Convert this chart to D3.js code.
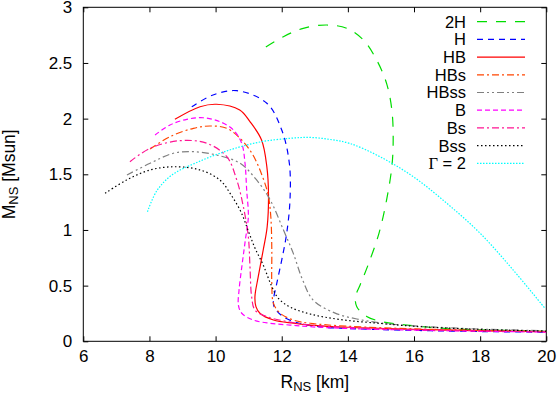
<!DOCTYPE html>
<html>
<head>
<meta charset="utf-8">
<script src="https://cdn.jsdelivr.net/npm/d3@7"></script>
<style>
body { margin: 0; background: #fff; }
text { font-family: "Liberation Sans", Arial, sans-serif; fill: #000; }
</style>
</head>
<body>
<svg id="chart" width="559" height="395"></svg>
<script>
// Mass-radius curves, [R in km, M in Msun]
var curve2H = [[11.52,2.643],[12.05,2.736],[12.65,2.811],[13.36,2.841],[13.97,2.811],[14.47,2.706],[14.87,2.527],[15.17,2.317],[15.33,2.078],[15.37,1.808],[15.33,1.568],[15.17,1.269],[14.94,0.970],[14.61,0.685],[14.37,0.506],[14.23,0.398],[14.27,0.311],[14.57,0.223],[15.09,0.173],[15.78,0.146],[16.48,0.126],[17.29,0.110],[18.30,0.101],[20.0,0.090]];
var curveH = [[9.28,2.107],[9.9,2.21],[10.64,2.251],[11.55,2.138],[12.0,1.898],[12.23,1.599],[12.25,1.27],[12.15,0.970],[12.0,0.73],[11.85,0.52],[11.75,0.37],[11.77,0.31],[12.05,0.22],[12.55,0.16],[13.16,0.13],[14.0,0.115],[16.0,0.098],[18.0,0.088],[20.0,0.082]];
var curveHB = [[8.77,1.994],[9.53,2.107],[10.03,2.129],[10.73,2.078],[11.04,1.973],[11.39,1.808],[11.55,1.568],[11.60,1.314],[11.56,1.029],[11.44,0.820],[11.29,0.580],[11.19,0.401],[11.22,0.311],[11.34,0.252],[11.75,0.191],[12.35,0.162],[12.86,0.146],[14.0,0.126],[16.0,0.108],[18.0,0.095],[20.0,0.086]];
var curveHBs = [[8.02,1.727],[8.62,1.838],[9.33,1.913],[9.83,1.934],[10.34,1.913],[10.79,1.808],[11.13,1.673],[11.40,1.494],[11.59,1.314],[11.67,1.119],[11.70,0.820],[11.70,0.521],[11.75,0.341],[11.95,0.252],[12.35,0.191],[12.86,0.162],[14.0,0.135],[16.0,0.112],[18.0,0.098],[20.0,0.088]];
var curveHBss = [[7.32,1.494],[8.02,1.599],[8.72,1.689],[9.33,1.703],[10.03,1.673],[10.74,1.599],[11.24,1.449],[11.65,1.270],[12.05,1.001],[12.35,0.790],[12.62,0.560],[12.95,0.370],[13.60,0.255],[14.27,0.200],[15.0,0.165],[16.0,0.138],[18.0,0.110],[20.0,0.095]];
var curveB = [[8.17,1.853],[8.62,1.943],[9.13,1.994],[9.63,2.008],[10.13,1.973],[10.54,1.898],[10.79,1.778],[10.89,1.599],[10.94,1.359],[10.99,1.119],[10.90,0.910],[10.80,0.685],[10.71,0.461],[10.69,0.326],[10.79,0.252],[11.14,0.191],[11.65,0.162],[12.25,0.146],[12.86,0.131],[14.0,0.115],[16.0,0.100],[18.0,0.090],[20.0,0.083]];
var curveBs = [[7.41,1.613],[8.02,1.734],[8.92,1.802],[9.73,1.779],[10.34,1.658],[10.64,1.449],[10.84,1.209],[10.99,0.940],[11.04,0.670],[11.09,0.401],[11.19,0.281],[11.55,0.221],[12.25,0.173],[12.86,0.146],[14.0,0.125],[16.0,0.105],[18.0,0.093],[20.0,0.085]];
var curveBss = [[6.66,1.329],[7.31,1.449],[8.02,1.539],[8.77,1.568],[9.53,1.539],[10.13,1.449],[10.47,1.314],[10.77,1.161],[10.98,0.999],[11.19,0.838],[11.44,0.685],[11.68,0.506],[11.89,0.389],[12.25,0.308],[12.86,0.245],[13.76,0.196],[15.0,0.160],[16.0,0.135],[18.0,0.107],[20.0,0.092]];
var curveGamma = [[7.94,1.164],[8.22,1.350],[8.68,1.494],[9.47,1.611],[10.38,1.714],[11.34,1.790],[12.25,1.823],[12.86,1.831],[13.46,1.813],[14.06,1.777],[14.97,1.658],[15.98,1.478],[16.99,1.240],[18.00,0.970],[19.00,0.640],[19.96,0.296]];

var seriesNames = ["2H", "H", "HB", "HBs", "HBss", "B", "Bs", "Bss", "Γ = 2"];
var seriesData = [curve2H, curveH, curveHB, curveHBs, curveHBss, curveB, curveBs, curveBss, curveGamma];
var seriesColors = ["#00dd00", "#0000ff", "#ff0000", "#ff4500", "#808080", "#ff00ff", "#ff1493", "#000000", "#00ffff"];
var seriesDash = ["10,9", "6,5", null, "7,3,2,3", "7,3,2,3,2,3", "5,3", "7,3,2,3", "1.5,2.5", "1.5,1.5"];

var xTicks = [6, 8, 10, 12, 14, 16, 18, 20];
var yTicks = [0, 0.5, 1, 1.5, 2, 2.5, 3];

var plotLeft = 83.3, plotRight = 546.3, plotTop = 7.3, plotBottom = 341.3;

var svg = d3.select("#chart");

var x = d3.scaleLinear().domain([6, 20]).range([plotLeft, plotRight]);
var y = d3.scaleLinear().domain([0, 3]).range([plotBottom, plotTop]);

svg.append("defs").append("clipPath").attr("id", "clip")
    .append("rect")
    .attr("x", plotLeft).attr("y", plotTop)
    .attr("width", plotRight - plotLeft).attr("height", plotBottom - plotTop);

// axes: ticks on all four sides, pointing inward
var tickLen = 5;
svg.append("g")
    .attr("transform", "translate(0," + plotBottom + ")")
    .call(d3.axisBottom(x).tickValues(xTicks).tickSizeInner(-tickLen).tickSizeOuter(0).tickPadding(9).tickFormat(d => d));
svg.append("g")
    .attr("transform", "translate(0," + plotTop + ")")
    .call(d3.axisTop(x).tickValues(xTicks).tickSizeInner(-tickLen).tickSizeOuter(0).tickFormat(""));
svg.append("g")
    .attr("transform", "translate(" + plotLeft + ",0)")
    .call(d3.axisLeft(y).tickValues(yTicks).tickSizeInner(-tickLen).tickSizeOuter(0).tickPadding(11).tickFormat(d => d));
svg.append("g")
    .attr("transform", "translate(" + plotRight + ",0)")
    .call(d3.axisRight(y).tickValues(yTicks).tickSizeInner(-tickLen).tickSizeOuter(0).tickFormat(""));

svg.selectAll(".domain").remove();
svg.selectAll(".tick line").attr("stroke", "#000");
svg.selectAll(".tick text")
    .style("font-size", "17px")
    .style("font-family", "'Liberation Sans', Arial, sans-serif")
    .attr("fill", "#000");

svg.append("rect")
    .attr("x", plotLeft).attr("y", plotTop)
    .attr("width", plotRight - plotLeft).attr("height", plotBottom - plotTop)
    .attr("fill", "none")
    .attr("stroke", "#000")
    .attr("stroke-width", 1);

// curves
var line = d3.line()
    .x(d => x(d[0]))
    .y(d => y(d[1]))
    .curve(d3.curveCatmullRom.alpha(0.5));

var plot = svg.append("g").attr("clip-path", "url(#clip)");
seriesData.forEach(function(d, i) {
    plot.append("path")
        .datum(d)
        .attr("fill", "none")
        .attr("stroke", seriesColors[i])
        .attr("stroke-width", 1.2)
        .attr("stroke-dasharray", seriesDash[i])
        .attr("d", line);
});

// legend
var legendTop = 21.7, legendStep = 17.7;
seriesNames.forEach(function(name, i) {
    var ly = legendTop + i * legendStep;
    var t = svg.append("text")
        .attr("x", 466)
        .attr("y", ly)
        .attr("dy", "0.36em")
        .attr("text-anchor", "end")
        .style("font-size", "16.5px");
    if (name.charAt(0) === "Γ") {
        t.append("tspan").style("font-family", "'Liberation Serif', serif").text("Γ");
        t.append("tspan").text(name.slice(1));
    } else {
        t.text(name);
    }
    svg.append("line")
        .attr("x1", 477).attr("x2", 525)
        .attr("y1", ly).attr("y2", ly)
        .attr("stroke", seriesColors[i])
        .attr("stroke-width", 1.2)
        .attr("stroke-dasharray", seriesDash[i]);
});

// axis titles
var xt = svg.append("text")
    .attr("x", (plotLeft + plotRight) / 2)
    .attr("y", 388)
    .attr("text-anchor", "middle")
    .style("font-size", "17.5px");
xt.append("tspan").text("R");
xt.append("tspan").attr("baseline-shift", "-3").style("font-size", "13px").text("NS");
xt.append("tspan").text(" [km]");

var yt = svg.append("text")
    .attr("transform", "translate(15," + (plotTop + plotBottom) / 2 + ") rotate(-90)")
    .attr("text-anchor", "middle")
    .style("font-size", "17.5px");
yt.append("tspan").text("M");
yt.append("tspan").attr("baseline-shift", "-3").style("font-size", "13px").text("NS");
yt.append("tspan").text(" [Msun]");
</script>
</body>
</html>
